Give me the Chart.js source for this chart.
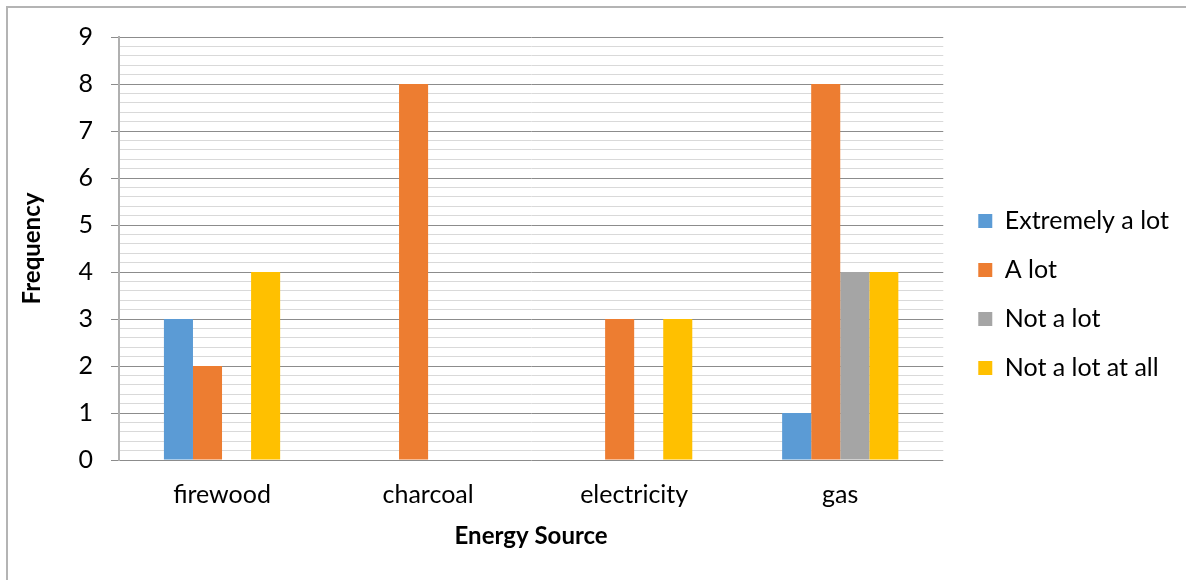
<!DOCTYPE html>
<html>
<head>
<meta charset="utf-8">
<script src="https://cdn.jsdelivr.net/npm/chart.js@4"></script>
<style>
  body { margin: 0; background: #fff; }
  #wrap { position: relative; width: 1186px; height: 580px; overflow: hidden; }
  #frame { position: absolute; left: 6px; top: 6px; width: 1300px; height: 700px;
           border-left: 2px solid #b4b4b4; border-top: 2px solid #b4b4b4; }
  canvas { position: absolute; left: 0; top: 0; }
</style>
</head>
<body>
<div id="wrap">
  <canvas id="chart" width="1186" height="580"></canvas>
  <div id="frame"></div>
</div>
<script>
// data
const categories = ['firewood', 'charcoal', 'electricity', 'gas'];
const extremelyALot = [3, 0, 0, 1];
const aLot = [2, 8, 3, 8];
const notALot = [0, 0, 0, 4];
const notALotAtAll = [4, 0, 3, 4];

const seriesNames = ['Extremely a lot', 'A lot', 'Not a lot', 'Not a lot at all'];
const colors = ['#5b9bd5', '#ed7d31', '#a5a5a5', '#ffc000'];

const font = 'Lato';

function isMajor(v) {
    return Math.abs(v - Math.round(v)) < 1e-6;
}

const ctx = document.getElementById('chart').getContext('2d');

new Chart(ctx, {
    type: 'bar',
    data: {
        labels: categories,
        datasets: [extremelyALot, aLot, notALot, notALotAtAll].map((vals, i) => ({
            label: seriesNames[i],
            data: vals,
            backgroundColor: colors[i],
            borderWidth: 0,
            barPercentage: 1,
            categoryPercentage: 0.564
        }))
    },
    options: {
        responsive: false,
        animation: false,
        layout: { padding: { top: 37, left: 0, bottom: 0, right: 7 } },
        scales: {
            x: {
                grid: { display: false, drawTicks: false },
                border: { display: false },
                ticks: { color: '#000', font: { family: font, size: 25 }, padding: 20 },
                title: {
                    display: true, text: 'Energy Source', color: '#000',
                    font: { family: font, size: 24, weight: 'bold' },
                    padding: { top: 0, bottom: 29 }
                },
                afterFit: s => { s.height = 120; }
            },
            y: {
                min: 0, max: 9,
                ticks: {
                    stepSize: 0.2, maxTicksLimit: 100, autoSkip: false,
                    color: '#000', font: { family: font, size: 25 }, padding: 18,
                    callback: v => isMajor(v) ? Math.round(v) : ''
                },
                grid: {
                    color: c => isMajor(c.tick.value) ? '#8c8c8c' : '#d9d9d9',
                    tickColor: c => isMajor(c.tick.value) ? '#8c8c8c' : 'rgba(0,0,0,0)',
                    tickLength: 8,
                    lineWidth: 1
                },
                border: { color: '#b0b0b0', width: 2 },
                title: {
                    display: true, text: 'Frequency', color: '#000',
                    font: { family: font, size: 24, weight: 'bold' },
                    padding: { top: 18, bottom: 0 }
                },
                afterFit: s => { s.width = 119; }
            },
            gap: {
                position: 'right',
                grid: { display: false },
                border: { display: false },
                ticks: { display: false },
                afterFit: s => { s.width = 11; }
            }
        },
        plugins: {
            legend: {
                position: 'right',
                align: 'start',
                maxWidth: 229,
                title: { display: true, text: ' ', padding: { top: 72, bottom: 73 }, font: { size: 2 } },
                labels: {
                    color: '#000',
                    font: { family: font, size: 25 },
                    boxWidth: 14, boxHeight: 14,
                    padding: 24
                }
            },
            tooltip: { enabled: false }
        }
    }
});
</script>
</body>
</html>
